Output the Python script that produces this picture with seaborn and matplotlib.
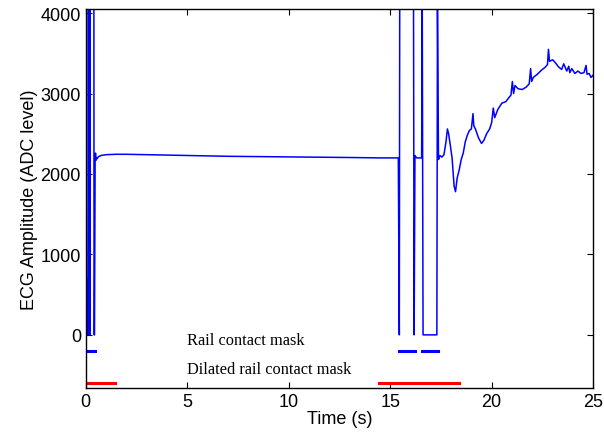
import numpy as np
import pandas as pd
import matplotlib
matplotlib.use("Agg")
import matplotlib.pyplot as plt
import seaborn as sns

# ECG signal (time in s, ADC level)
t_ecg = [0.0, 0.01, 0.02, 0.03, 0.05, 0.07, 0.10, 0.13, 0.16, 0.18, 0.20, 0.22,
         0.40, 0.41, 0.43, 0.46, 0.48, 0.50, 0.53, 0.56, 0.62, 0.75, 1.0, 1.5, 2.0,
         3.0, 5.0, 7.0, 9.0, 11.0, 13.0, 14.5, 15.40,
         15.45, 15.47, 16.15, 16.18, 16.22, 16.30, 16.55, 16.58, 16.62, 17.30, 17.33,
         17.38, 17.45, 17.55, 17.65, 17.75, 17.82, 17.88, 17.95, 18.05, 18.15, 18.22,
         18.30, 18.40, 18.50, 18.60, 18.70, 18.80, 18.90, 19.00, 19.08, 19.12, 19.20,
         19.35, 19.50, 19.62, 19.75, 19.90, 20.00, 20.08, 20.15, 20.30, 20.50, 20.70,
         20.85, 20.95, 21.02, 21.08, 21.15, 21.30, 21.50, 21.70, 21.85, 21.92, 21.97,
         22.05, 22.25, 22.45, 22.65, 22.75, 22.80, 22.85, 23.00, 23.15, 23.30, 23.45,
         23.55, 23.70, 23.80, 23.85, 23.95, 24.10, 24.25, 24.40, 24.55, 24.65, 24.70,
         24.80, 24.90, 25.0]
v_ecg = [0, 1500, 0, 700, 0, 300, 0, 4095, 0, 4095, 0, 4095,
         4095, 0, 0, 2150, 2260, 2170, 2200, 2190, 2215, 2230, 2240, 2245, 2245,
         2240, 2230, 2220, 2215, 2210, 2205, 2200, 2200,
         0, 4095, 4095, 0, 2230, 2200, 2200, 4095, 0, 0, 4095,
         2180, 2230, 2210, 2240, 2400, 2560, 2500, 2380, 2200, 1850, 1780,
         1950, 2050, 2180, 2260, 2400, 2480, 2540, 2560, 2750, 2600, 2560,
         2450, 2380, 2420, 2500, 2560, 2640, 2820, 2700, 2800, 2880, 2900,
         2950, 2980, 3150, 3000, 3100, 3060, 3050, 3080, 3120, 3310, 3150,
         3200, 3240, 3290, 3330, 3360, 3550, 3400, 3420, 3380, 3330, 3300,
         3370, 3280, 3340, 3260, 3310, 3250, 3280, 3250, 3260, 3350, 3240,
         3250, 3200, 3230]

# Mask segments (start, end) in seconds
rail_starts = [0.0, 15.45, 16.55]
rail_ends = [0.45, 16.20, 17.35]
dil_starts = [0.0, 14.45]
dil_ends = [1.43, 18.40]
rail_level = -200
dil_level = -600

fig = plt.figure(figsize=(6.04, 4.39), dpi=100)
ax = fig.add_axes([0.142, 0.114, 0.840, 0.863])

df = pd.DataFrame({"t": t_ecg, "v": v_ecg})
sns.lineplot(data=df, x="t", y="v", ax=ax, sort=False, estimator=None,
             color="#0000ff", linewidth=1.1)

rows = []
for i, (s, e) in enumerate(zip(rail_starts, rail_ends)):
    rows += [{"t": s, "v": rail_level, "u": i}, {"t": e, "v": rail_level, "u": i}]
df_r = pd.DataFrame(rows)
sns.lineplot(data=df_r, x="t", y="v", units="u", estimator=None, ax=ax,
             color="#0000ff", linewidth=2.2)
rows = []
for i, (s, e) in enumerate(zip(dil_starts, dil_ends)):
    rows += [{"t": s, "v": dil_level, "u": i}, {"t": e, "v": dil_level, "u": i}]
df_d = pd.DataFrame(rows)
sns.lineplot(data=df_d, x="t", y="v", units="u", estimator=None, ax=ax,
             color="#ff0000", linewidth=2.2)

ax.text(5.0, -70, "Rail contact mask", family="Liberation Serif", fontsize=11.8,
        va="center", ha="left")
ax.text(5.0, -430, "Dilated rail contact mask", family="Liberation Serif",
        fontsize=11.8, va="center", ha="left")

ax.set_xlim(0, 25)
ax.set_ylim(-660, 4050)
ax.set_xticks([0, 5, 10, 15, 20, 25])
ax.set_yticks([0, 1000, 2000, 3000, 4000])
ax.tick_params(direction="in", top=True, right=True, length=4, width=0.8,
               labelsize=13)
for lab in ax.get_xticklabels() + ax.get_yticklabels():
    lab.set_family("Liberation Sans")
ax.set_xlabel("Time (s)", family="Liberation Sans", fontsize=13, labelpad=0)
ax.set_ylabel("ECG Amplitude (ADC level)", family="Liberation Sans", fontsize=13,
              labelpad=2)
for sp in ax.spines.values():
    sp.set_linewidth(1.0)
    sp.set_color("black")

fig.savefig("out.png", dpi=100)
